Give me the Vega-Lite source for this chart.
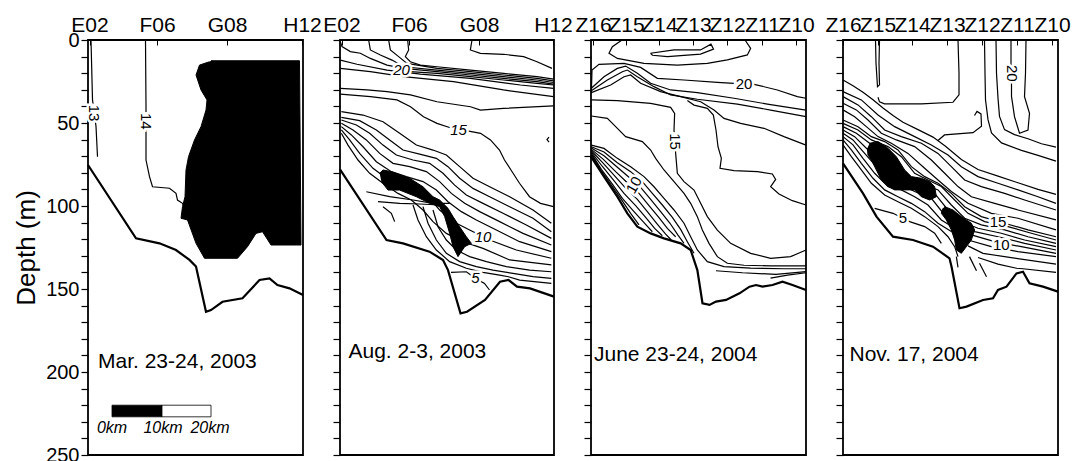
{
"$schema": "https://vega.github.io/schema/vega-lite/v6.json",
"background": "white",
"padding": {"left": 12, "top": 13, "right": 5, "bottom": 0},
"bounds": "flush",
"spacing": 37,
"config": {"view": {"stroke": "black", "strokeWidth": 1.8}, "font": "Liberation Sans"},
"datasets": {
"p1c": [
{"k":"13","x":0.6,"y":0},{"k":"13","x":0.9,"y":36},{"k":"13","x":1.25,"y":44},{"k":"13","x":1.6,"y":52},{"k":"13","x":1.9,"y":70.3},
{"k":"14","x":11.5,"y":0},{"k":"14","x":11.6,"y":40},{"k":"14","x":11.6,"y":58},{"k":"14","x":11.6,"y":72.3},{"k":"14","x":12.3,"y":82.3},{"k":"14","x":12.9,"y":88.4},{"k":"14","x":16.3,"y":89.3},{"k":"14","x":17.6,"y":92.4},{"k":"14","x":17.9,"y":96.4},{"k":"14","x":18.9,"y":98.4},{"k":"14","x":19.3,"y":100.4}
],
"p1f": [
{"k":"f","x":24.6,"y":12.5},{"k":"f","x":42.3,"y":12.5},{"k":"f","x":42.6,"y":123.5},{"k":"f","x":36.6,"y":123.5},{"k":"f","x":34.9,"y":115.5},{"k":"f","x":33.6,"y":116.5},{"k":"f","x":31.9,"y":124.5},{"k":"f","x":29.9,"y":131.5},{"k":"f","x":23.3,"y":131.5},{"k":"f","x":21.6,"y":122.5},{"k":"f","x":19.9,"y":108.4},{"k":"f","x":18.6,"y":107.4},{"k":"f","x":18.9,"y":100.4},{"k":"f","x":19.4,"y":94.4},{"k":"f","x":19.6,"y":78.3},{"k":"f","x":20.1,"y":70.3},{"k":"f","x":21.3,"y":60.2},{"k":"f","x":22.6,"y":52.2},{"k":"f","x":23.6,"y":42.2},{"k":"f","x":23.8,"y":36.1},{"k":"f","x":22.6,"y":30.1},{"k":"f","x":21.6,"y":21.1},{"k":"f","x":22.3,"y":15.1},{"k":"f","x":24.3,"y":13.1}
],
"p1b": [
{"k":"b","x":0,"y":75.3},{"k":"b","x":9.6,"y":119.5},{"k":"b","x":14.3,"y":122.5},{"k":"b","x":17.6,"y":126.5},{"k":"b","x":20.3,"y":132.5},{"k":"b","x":21.6,"y":136.5},{"k":"b","x":23.6,"y":163.7},{"k":"b","x":24.6,"y":162.7},{"k":"b","x":26.9,"y":157.7},{"k":"b","x":30.9,"y":155.6},{"k":"b","x":34.3,"y":144.6},{"k":"b","x":36.3,"y":143.6},{"k":"b","x":37.9,"y":147.6},{"k":"b","x":40.3,"y":149.6},{"k":"b","x":43,"y":153.6}
],
"p1l90": [{"x":1.25,"y":44,"t":"13"},{"x":11.6,"y":49,"t":"14"}],
"p1t": [{"x":2,"y":194,"t":"Mar. 23-24, 2003"}],
"p1bar": [{"seg":"0-10","x":4.8,"x2":14.8,"y":220,"y2":227},{"seg":"10-20","x":14.8,"x2":24.6,"y":220,"y2":227}],
"p1km": [{"x":4.8,"y":234,"t":"0km"},{"x":15,"y":234,"t":"10km"},{"x":24.4,"y":234,"t":"20km"}],
"p2c": [
{"k":"a1","x":0.07,"y":1},{"k":"a1","x":0.4,"y":4},{"k":"a1","x":2.07,"y":7},{"k":"a1","x":4.07,"y":8},{"k":"a1","x":6.07,"y":11.1},{"k":"a1","x":9.4,"y":15.1},{"k":"a1","x":12.73,"y":17.1},{"k":"a1","x":19.4,"y":19.1},{"k":"a1","x":26.1,"y":21.1},{"k":"a1","x":32.7,"y":23.1},{"k":"a1","x":39.4,"y":25.1},{"k":"a1","x":42.7,"y":26.6},
{"k":"a2","x":5.73,"y":0},{"k":"a2","x":6.07,"y":6},{"k":"a2","x":8.07,"y":9},{"k":"a2","x":10.4,"y":12.1},{"k":"a2","x":12.73,"y":16.1},{"k":"a2","x":19.4,"y":18.1},{"k":"a2","x":26.1,"y":20.1},{"k":"a2","x":32.7,"y":22.1},{"k":"a2","x":39.4,"y":24.1},{"k":"a2","x":42.7,"y":25.6},
{"k":"a3","x":9.73,"y":0},{"k":"a3","x":10.07,"y":6},{"k":"a3","x":11.73,"y":10},{"k":"a3","x":13.4,"y":14.1},{"k":"a3","x":19.4,"y":17.1},{"k":"a3","x":26.1,"y":19.1},{"k":"a3","x":32.7,"y":21.1},{"k":"a3","x":39.4,"y":23.1},{"k":"a3","x":42.7,"y":24.6},
{"k":"a4","x":13.53,"y":0},{"k":"a4","x":13.73,"y":6},{"k":"a4","x":13.07,"y":10},{"k":"a4","x":14.07,"y":13.1},{"k":"a4","x":16.07,"y":15.1},{"k":"a4","x":19.4,"y":16.1},{"k":"a4","x":26.1,"y":18.1},{"k":"a4","x":32.7,"y":20.1},{"k":"a4","x":39.4,"y":22.1},{"k":"a4","x":42.7,"y":23.6},
{"k":"a5","x":11,"y":18.5},{"k":"a5","x":19.4,"y":20.1},{"k":"a5","x":26.1,"y":22.1},{"k":"a5","x":32.7,"y":24.1},{"k":"a5","x":39.4,"y":26.1},{"k":"a5","x":42.7,"y":27.1},
{"k":"l5","x":0.07,"y":12.1},{"k":"l5","x":3.4,"y":14.6},{"k":"l5","x":9.4,"y":18.1},{"k":"l5","x":16.1,"y":20.6},{"k":"l5","x":26.1,"y":23.1},{"k":"l5","x":36.1,"y":27.1},{"k":"l5","x":42.7,"y":29.1},
{"k":"l6","x":0.07,"y":17.1},{"k":"l6","x":6.07,"y":19.1},{"k":"l6","x":12.7,"y":22.1},{"k":"l6","x":22.7,"y":25.1},{"k":"l6","x":32.7,"y":30.1},{"k":"l6","x":42.7,"y":34.1},
{"k":"e","x":26.4,"y":0},{"k":"e","x":26.07,"y":6},{"k":"e","x":28.07,"y":8},{"k":"e","x":32.73,"y":8.6},{"k":"e","x":36.73,"y":10},{"k":"e","x":39.4,"y":13.1},{"k":"e","x":42.4,"y":17.1},
{"k":"l7","x":0.07,"y":29.1},{"k":"l7","x":5.4,"y":30.1},{"k":"l7","x":9.4,"y":31.1},{"k":"l7","x":14.1,"y":33.1},{"k":"l7","x":19.4,"y":37.2},{"k":"l7","x":26.1,"y":40.2},{"k":"l7","x":28.1,"y":42.2},{"k":"l7","x":32.7,"y":41.2},{"k":"l7","x":42.7,"y":39.7},
{"k":"c15","x":0.07,"y":32.6},{"k":"c15","x":6.1,"y":34.1},{"k":"c15","x":11.4,"y":36.1},{"k":"c15","x":14.1,"y":40.2},{"k":"c15","x":16.7,"y":46.2},{"k":"c15","x":19.4,"y":50.2},{"k":"c15","x":21.9,"y":52.7},{"k":"c15","x":23.7,"y":54},{"k":"c15","x":25.5,"y":54.7},{"k":"c15","x":28.1,"y":56.2},{"k":"c15","x":30.1,"y":60.2},{"k":"c15","x":31.9,"y":66.3},{"k":"c15","x":32.9,"y":72.3},{"k":"c15","x":34.2,"y":78.3},{"k":"c15","x":35.9,"y":86.3},{"k":"c15","x":37.9,"y":94.4},{"k":"c15","x":40.1,"y":98.4},{"k":"c15","x":42.7,"y":100.4},
{"k":"m1","x":0.27,"y":43.2},{"k":"m1","x":4.6,"y":45.2},{"k":"m1","x":8.6,"y":49.2},{"k":"m1","x":11.93,"y":56.2},{"k":"m1","x":15.27,"y":63.3},{"k":"m1","x":18.6,"y":66.3},{"k":"m1","x":21.27,"y":69.3},{"k":"m1","x":23.93,"y":76.3},{"k":"m1","x":26.6,"y":83.3},{"k":"m1","x":29.93,"y":88.4},{"k":"m1","x":33.93,"y":94.4},{"k":"m1","x":38.6,"y":102.4},{"k":"m1","x":42.27,"y":110.4},
{"k":"m2","x":0.27,"y":46.6},{"k":"m2","x":3.93,"y":48.6},{"k":"m2","x":7.27,"y":54.2},{"k":"m2","x":9.93,"y":60.2},{"k":"m2","x":12.6,"y":66.3},{"k":"m2","x":15.93,"y":68.7},{"k":"m2","x":19.27,"y":71.3},{"k":"m2","x":21.6,"y":76.3},{"k":"m2","x":23.93,"y":83.3},{"k":"m2","x":26.6,"y":89.4},{"k":"m2","x":29.93,"y":94.4},{"k":"m2","x":33.93,"y":100.4},{"k":"m2","x":38.6,"y":107.4},{"k":"m2","x":42.27,"y":115.5},
{"k":"m3","x":0.27,"y":48.2},{"k":"m3","x":3.27,"y":51.2},{"k":"m3","x":5.93,"y":56.2},{"k":"m3","x":8.6,"y":63.3},{"k":"m3","x":11.27,"y":69.3},{"k":"m3","x":14.6,"y":72.3},{"k":"m3","x":17.93,"y":74.3},{"k":"m3","x":20.6,"y":80.3},{"k":"m3","x":22.93,"y":87.4},{"k":"m3","x":25.27,"y":93.4},{"k":"m3","x":28.6,"y":98.4},{"k":"m3","x":32.6,"y":104.4},{"k":"m3","x":37.27,"y":111.4},{"k":"m3","x":42.27,"y":119.5},
{"k":"m4","x":0.27,"y":50.2},{"k":"m4","x":2.6,"y":54.2},{"k":"m4","x":5.27,"y":60.2},{"k":"m4","x":7.93,"y":68.3},{"k":"m4","x":10.6,"y":74.3},{"k":"m4","x":13.93,"y":76.3},{"k":"m4","x":17.27,"y":79.3},{"k":"m4","x":19.93,"y":85.3},{"k":"m4","x":22.27,"y":92.4},{"k":"m4","x":24.93,"y":98.4},{"k":"m4","x":27.93,"y":103.4},{"k":"m4","x":31.93,"y":109.4},{"k":"m4","x":36.6,"y":116.5},{"k":"m4","x":42.27,"y":123.5},
{"k":"m5","x":0.27,"y":52.2},{"k":"m5","x":2.27,"y":57.2},{"k":"m5","x":4.6,"y":64.3},{"k":"m5","x":7.27,"y":73.3},{"k":"m5","x":10.27,"y":79.3},{"k":"m5","x":13.27,"y":82.3},{"k":"m5","x":16.6,"y":85.3},{"k":"m5","x":19.27,"y":90.4},{"k":"m5","x":21.6,"y":97.4},{"k":"m5","x":24.27,"y":103.4},{"k":"m5","x":27.27,"y":108.4},{"k":"m5","x":31.27,"y":114.5},{"k":"m5","x":35.93,"y":121.5},{"k":"m5","x":42.27,"y":127.5},
{"k":"m6","x":0.27,"y":54.2},{"k":"m6","x":1.93,"y":60.2},{"k":"m6","x":3.93,"y":68.3},{"k":"m6","x":6.6,"y":77.3},{"k":"m6","x":9.27,"y":83.3},{"k":"m6","x":12.6,"y":87.4},{"k":"m6","x":15.27,"y":90.4},{"k":"m6","x":17.93,"y":95.4},{"k":"m6","x":19.93,"y":102.4},{"k":"m6","x":22.6,"y":109.4},{"k":"m6","x":25.93,"y":114.5},{"k":"m6","x":29.93,"y":120.5},{"k":"m6","x":35.27,"y":126.5},{"k":"m6","x":42.27,"y":131.5},
{"k":"m7","x":0.27,"y":56.2},{"k":"m7","x":1.6,"y":63.3},{"k":"m7","x":3.6,"y":72.3},{"k":"m7","x":5.93,"y":80.3},{"k":"m7","x":8.6,"y":86.3},{"k":"m7","x":11.6,"y":92.4},{"k":"m7","x":14.27,"y":96.4},{"k":"m7","x":16.6,"y":102.4},{"k":"m7","x":18.6,"y":109.4},{"k":"m7","x":21.27,"y":116.5},{"k":"m7","x":24.6,"y":121.5},{"k":"m7","x":28.6,"y":125.5},{"k":"m7","x":33.93,"y":132.5},{"k":"m7","x":42.27,"y":135.5},
{"k":"n1","x":14.6,"y":99.4},{"k":"n1","x":15.6,"y":108.4},{"k":"n1","x":17.27,"y":118.5},{"k":"n1","x":19.27,"y":126.5},{"k":"n1","x":21.93,"y":133.5},{"k":"n1","x":25.27,"y":137.5},{"k":"n1","x":28.6,"y":140},{"k":"n1","x":31.93,"y":141.6},{"k":"n1","x":33.7,"y":142.6},{"k":"n1","x":35.93,"y":144.6},{"k":"n1","x":42.27,"y":146.6},
{"k":"n2","x":16.6,"y":100.4},{"k":"n2","x":17.6,"y":110.4},{"k":"n2","x":19.27,"y":120.5},{"k":"n2","x":21.27,"y":128.5},{"k":"n2","x":23.93,"y":133.5},{"k":"n2","x":27.27,"y":136.5},{"k":"n2","x":30.6,"y":138.6},{"k":"n2","x":34.6,"y":140.6},{"k":"n2","x":38.6,"y":142.6},{"k":"n2","x":42.27,"y":143.6},
{"k":"n3","x":18.6,"y":102.4},{"k":"n3","x":19.6,"y":112.5},{"k":"n3","x":21.27,"y":120.5},{"k":"n3","x":23.27,"y":126.5},{"k":"n3","x":25.93,"y":130.5},{"k":"n3","x":29.27,"y":133.5},{"k":"n3","x":33.27,"y":136.5},{"k":"n3","x":37.93,"y":138.6},{"k":"n3","x":42.27,"y":139.6},
{"k":"x1","x":5.27,"y":91.4},{"k":"x1","x":9.93,"y":94.4},{"k":"x1","x":14.6,"y":96.4},{"k":"x1","x":18.6,"y":98.4},{"k":"x1","x":21.93,"y":98.4},
{"k":"x2","x":7.6,"y":97.4},{"k":"x2","x":11.93,"y":98.4},{"k":"x2","x":15.93,"y":98.8},{"k":"x2","x":19.93,"y":99.4},
{"k":"x3","x":8.6,"y":100.4},{"k":"x3","x":10.27,"y":104.4},{"k":"x3","x":10.93,"y":109.4},
{"k":"c5","x":22.2,"y":140},{"k":"c5","x":25.27,"y":139.6},{"k":"c5","x":27.1,"y":143.6},{"k":"c5","x":28.9,"y":146.6},{"k":"c5","x":29.9,"y":150.6},
{"k":"cc","x":41.8,"y":58.5},{"k":"cc","x":41.4,"y":60},{"k":"cc","x":41.8,"y":61.5}
],
"p2f": [
{"k":"f","x":7.93,"y":80.3},{"k":"f","x":8.6,"y":78.3},{"k":"f","x":10.27,"y":79.3},{"k":"f","x":13.93,"y":83.3},{"k":"f","x":16.6,"y":88.4},{"k":"f","x":18.6,"y":94.4},{"k":"f","x":19.93,"y":96.4},{"k":"f","x":21.6,"y":101.4},{"k":"f","x":22.6,"y":106.4},{"k":"f","x":23.93,"y":112.5},{"k":"f","x":25.27,"y":118.5},{"k":"f","x":26.27,"y":122.5},{"k":"f","x":24.93,"y":124.5},{"k":"f","x":23.6,"y":130.5},{"k":"f","x":22.6,"y":124.5},{"k":"f","x":21.93,"y":116.5},{"k":"f","x":20.93,"y":106.4},{"k":"f","x":19.93,"y":100.4},{"k":"f","x":17.93,"y":98.4},{"k":"f","x":15.27,"y":94.4},{"k":"f","x":11.93,"y":90.4},{"k":"f","x":9.6,"y":90.4},{"k":"f","x":8.27,"y":85.3}
],
"p2b": [
{"k":"b","x":0,"y":78},{"k":"b","x":9.3,"y":120.5},{"k":"b","x":12.6,"y":122.5},{"k":"b","x":17.9,"y":127.5},{"k":"b","x":20.6,"y":132.5},{"k":"b","x":21.6,"y":138.6},{"k":"b","x":24.1,"y":164.7},{"k":"b","x":25.4,"y":163.7},{"k":"b","x":29,"y":156.6},{"k":"b","x":32,"y":145.6},{"k":"b","x":33.7,"y":144.6},{"k":"b","x":35.4,"y":148.6},{"k":"b","x":38,"y":149.6},{"k":"b","x":42.8,"y":154.6}
],
"p2l0": [{"x":12.3,"y":18.1,"t":"20"},{"x":23.7,"y":54,"t":"15"},{"x":28.6,"y":118.5,"t":"10"},{"x":27.1,"y":143.6,"t":"5"}],
"p2t": [{"x":1.7,"y":188,"t":"Aug. 2-3, 2003"}],
"p3c": [
{"k":"ta","x":6.2,"y":0},{"k":"ta","x":4.27,"y":4},{"k":"ta","x":3.6,"y":8},{"k":"ta","x":5.27,"y":11.1},{"k":"ta","x":10.6,"y":14.1},{"k":"ta","x":17.27,"y":15.1},{"k":"ta","x":23.27,"y":14.1},{"k":"ta","x":27.27,"y":12},{"k":"ta","x":31.27,"y":9},{"k":"ta","x":31.93,"y":5},{"k":"ta","x":30.8,"y":0},
{"k":"tb","x":11.9,"y":8},{"k":"tb","x":16.6,"y":6},{"k":"tb","x":21.9,"y":6},{"k":"tb","x":24,"y":2.5},{"k":"tb","x":24.5,"y":5.5},{"k":"tb","x":21.9,"y":8.5},{"k":"tb","x":15.3,"y":10},{"k":"tb","x":12.3,"y":9.2},{"k":"tb","x":11.9,"y":8},
{"k":"tc","x":0.07,"y":32.1},{"k":"tc","x":0.2,"y":18.1},{"k":"tc","x":1.6,"y":14.7},{"k":"tc","x":6.6,"y":14.1},{"k":"tc","x":9.93,"y":16.5},{"k":"tc","x":13.27,"y":23.1},{"k":"tc","x":18.6,"y":24.1},{"k":"tc","x":25.27,"y":25.5},{"k":"tc","x":28.6,"y":26.1},{"k":"tc","x":30.6,"y":26.4},{"k":"tc","x":32.6,"y":26.7},{"k":"tc","x":37.27,"y":30.1},{"k":"tc","x":41.27,"y":34.1},{"k":"tc","x":43,"y":35.1},
{"k":"td","x":0.07,"y":29.1},{"k":"td","x":2.6,"y":22.1},{"k":"td","x":5.27,"y":17.1},{"k":"td","x":6.93,"y":15.7},{"k":"td","x":9.27,"y":20.1},{"k":"td","x":11.93,"y":26.1},{"k":"td","x":15.93,"y":30.1},{"k":"td","x":21.27,"y":31.7},{"k":"td","x":28.6,"y":35.1},{"k":"td","x":35.27,"y":38.6},{"k":"td","x":43,"y":42.2},
{"k":"te","x":0.07,"y":30.5},{"k":"te","x":3.27,"y":24.1},{"k":"te","x":6.27,"y":19.1},{"k":"te","x":7.27,"y":18.1},{"k":"te","x":9.27,"y":22.1},{"k":"te","x":12.6,"y":28.1},{"k":"te","x":15.93,"y":33.1},{"k":"te","x":21.27,"y":35.7},{"k":"te","x":29.27,"y":38.6},{"k":"te","x":35.93,"y":42.2},{"k":"te","x":43,"y":46.2},
{"k":"tf","x":0.07,"y":31.7},{"k":"tf","x":3.93,"y":27.1},{"k":"tf","x":6.6,"y":22.1},{"k":"tf","x":7.93,"y":21.1},{"k":"tf","x":9.93,"y":26.1},{"k":"tf","x":13.93,"y":31.1},{"k":"tf","x":17.93,"y":34.1},{"k":"tf","x":21.93,"y":37.2},{"k":"tf","x":24.6,"y":42.2},{"k":"tf","x":26.6,"y":47.2},{"k":"tf","x":29.93,"y":50.2},{"k":"tf","x":34.6,"y":53.2},{"k":"tf","x":38.6,"y":58.2},{"k":"tf","x":43,"y":63.3},
{"k":"c15","x":0.07,"y":36.1},{"k":"c15","x":5.27,"y":36.5},{"k":"c15","x":11.93,"y":38.2},{"k":"c15","x":15.93,"y":40.6},{"k":"c15","x":16.73,"y":44.2},{"k":"c15","x":16.6,"y":54.2},{"k":"c15","x":16.73,"y":61.2},{"k":"c15","x":16.93,"y":68.3},{"k":"c15","x":17.27,"y":80.3},{"k":"c15","x":18.6,"y":85.3},{"k":"c15","x":20.6,"y":90.4},{"k":"c15","x":21.93,"y":98.4},{"k":"c15","x":23.27,"y":106.4},{"k":"c15","x":25.27,"y":114.5},{"k":"c15","x":27.93,"y":122.5},{"k":"c15","x":31.93,"y":128.5},{"k":"c15","x":35.93,"y":131.5},{"k":"c15","x":39.93,"y":130.5},{"k":"c15","x":43,"y":126.5},
{"k":"sg","x":19.27,"y":36.5},{"k":"sg","x":20.6,"y":39.2},{"k":"sg","x":23.27,"y":41.2},{"k":"sg","x":24.47,"y":45.2},{"k":"sg","x":25,"y":54.2},{"k":"sg","x":25.4,"y":64.3},{"k":"sg","x":26.07,"y":71.3},{"k":"sg","x":25.8,"y":77.3},{"k":"sg","x":28.6,"y":78.7},{"k":"sg","x":33.27,"y":79.3},{"k":"sg","x":36.27,"y":80.7},{"k":"sg","x":36.93,"y":84},{"k":"sg","x":35.93,"y":88.4},{"k":"sg","x":37.6,"y":92.8},{"k":"sg","x":40.27,"y":96.8},{"k":"sg","x":43,"y":99.4},
{"k":"g1","x":0.07,"y":45.8},{"k":"g1","x":3.27,"y":47.2},{"k":"g1","x":4.93,"y":52.2},{"k":"g1","x":6.93,"y":58.2},{"k":"g1","x":10.27,"y":61.2},{"k":"g1","x":11.93,"y":66.3},{"k":"g1","x":12.93,"y":71.3},{"k":"g1","x":14.6,"y":78.3},{"k":"g1","x":16.6,"y":85.3},{"k":"g1","x":18.6,"y":92.4},{"k":"g1","x":19.93,"y":98.4},{"k":"g1","x":21.27,"y":106.4},{"k":"g1","x":22.27,"y":114.5},{"k":"g1","x":23.6,"y":122.5},{"k":"g1","x":25.27,"y":130.5},{"k":"g1","x":27.27,"y":134.5},{"k":"g1","x":30.6,"y":135.7},{"k":"g1","x":35.93,"y":136.1},{"k":"g1","x":43,"y":136.1},
{"k":"h1","x":0.07,"y":63.3},{"k":"h1","x":2.6,"y":65.3},{"k":"h1","x":5.27,"y":71.3},{"k":"h1","x":7.93,"y":76.3},{"k":"h1","x":10.6,"y":82.3},{"k":"h1","x":12.6,"y":88.4},{"k":"h1","x":14.6,"y":95.4},{"k":"h1","x":16.6,"y":102.4},{"k":"h1","x":18.6,"y":110.4},{"k":"h1","x":19.93,"y":118.5},{"k":"h1","x":21.27,"y":126.5},{"k":"h1","x":23.27,"y":133.5},{"k":"h1","x":26.6,"y":136.5},{"k":"h1","x":31.93,"y":137.4},{"k":"h1","x":38.6,"y":137.8},{"k":"h1","x":43,"y":137.8},
{"k":"h2","x":0.07,"y":64.3},{"k":"h2","x":2.6,"y":67.5},{"k":"h2","x":5.27,"y":73.9},{"k":"h2","x":7.93,"y":79.3},{"k":"h2","x":10.27,"y":85.3},{"k":"h2","x":12.27,"y":92.4},{"k":"h2","x":14.27,"y":99.4},{"k":"h2","x":16.27,"y":106.8},{"k":"h2","x":17.93,"y":114.1},{"k":"h2","x":19.27,"y":121.5},{"k":"h2","x":20.6,"y":128.5},
{"k":"h3","x":0.07,"y":65.1},{"k":"h3","x":2.6,"y":69.7},{"k":"h3","x":5.27,"y":76.7},{"k":"h3","x":7.6,"y":82.7},{"k":"h3","x":9.93,"y":88.8},{"k":"h3","x":11.93,"y":96},{"k":"h3","x":13.93,"y":103.4},{"k":"h3","x":15.8,"y":110.4},{"k":"h3","x":17.4,"y":117.5},{"k":"h3","x":18.6,"y":122.5},
{"k":"h4","x":0.07,"y":65.9},{"k":"h4","x":2.47,"y":71.9},{"k":"h4","x":4.93,"y":79.3},{"k":"h4","x":7.27,"y":86},{"k":"h4","x":9.6,"y":92.4},{"k":"h4","x":11.6,"y":99.8},{"k":"h4","x":13.6,"y":107},{"k":"h4","x":15.27,"y":113.5},{"k":"h4","x":16.93,"y":118.5},
{"k":"h5","x":0.07,"y":66.7},{"k":"h5","x":2.33,"y":73.9},{"k":"h5","x":4.73,"y":81.9},{"k":"h5","x":6.93,"y":89.2},{"k":"h5","x":9.27,"y":96},{"k":"h5","x":11.27,"y":103.4},{"k":"h5","x":13.13,"y":110.4},{"k":"h5","x":14.93,"y":116.9},{"k":"h5","x":16.07,"y":120.5},
{"k":"h6","x":0.07,"y":67.5},{"k":"h6","x":2.2,"y":75.9},{"k":"h6","x":4.47,"y":84.3},{"k":"h6","x":6.6,"y":92.4},{"k":"h6","x":8.93,"y":99.8},{"k":"h6","x":10.93,"y":106.8},{"k":"h6","x":12.73,"y":113.5},{"k":"h6","x":14.27,"y":117.9},
{"k":"h7","x":0.07,"y":68.3},{"k":"h7","x":2.07,"y":77.9},{"k":"h7","x":4.27,"y":86.8},{"k":"h7","x":6.27,"y":95.4},{"k":"h7","x":8.6,"y":103.4},{"k":"h7","x":10.6,"y":110},{"k":"h7","x":12.27,"y":115.5},
{"k":"h8","x":0.07,"y":69.1},{"k":"h8","x":1.93,"y":78.3},{"k":"h8","x":3.93,"y":86.8},{"k":"h8","x":5.93,"y":95.4},{"k":"h8","x":7.93,"y":104.4},{"k":"h8","x":9.6,"y":111.4},
{"k":"bb","x":25,"y":139},{"k":"bb","x":30.3,"y":140.2},{"k":"bb","x":37,"y":141.2},{"k":"bb","x":43,"y":139.5},
{"k":"hh","x":35.9,"y":143.5},{"k":"hh","x":39.3,"y":141.6},{"k":"hh","x":43,"y":140.2}
],
"p3b": [
{"k":"b","x":0,"y":70.3},{"k":"b","x":2.6,"y":82.3},{"k":"b","x":5.27,"y":94.4},{"k":"b","x":7.27,"y":104.4},{"k":"b","x":9.27,"y":112.5},{"k":"b","x":11.93,"y":116.5},{"k":"b","x":14.6,"y":119.5},{"k":"b","x":17.93,"y":122.5},{"k":"b","x":19.93,"y":126.5},{"k":"b","x":21.27,"y":138.6},{"k":"b","x":22.3,"y":158.6},{"k":"b","x":23.7,"y":159.6},{"k":"b","x":25,"y":157.6},{"k":"b","x":27,"y":156.6},{"k":"b","x":29.7,"y":152.6},{"k":"b","x":31.7,"y":148.6},{"k":"b","x":33,"y":147.6},{"k":"b","x":34.3,"y":148.6},{"k":"b","x":36.3,"y":147.6},{"k":"b","x":38.3,"y":145.6},{"k":"b","x":40.3,"y":147.6},{"k":"b","x":43,"y":150.6}
],
"p3l0": [{"x":30.6,"y":26.5,"t":"20"}],
"p3l90": [{"x":16.7,"y":61.2,"t":"15"}],
"p3lr": [{"x":8.6,"y":87.4,"t":"10"}],
"p3t": [{"x":0.6,"y":190,"t":"June 23-24, 2004"}],
"p4c": [
{"k":"lp","x":6.5,"y":0},{"k":"lp","x":6.6,"y":14},{"k":"lp","x":6.9,"y":28.1},{"k":"lp","x":7.3,"y":27},{"k":"lp","x":7.2,"y":14},{"k":"lp","x":7.3,"y":0},
{"k":"gm","x":23,"y":0},{"k":"gm","x":23.2,"y":20},{"k":"gm","x":23.2,"y":33},{"k":"gm","x":22,"y":37.5},{"k":"gm","x":15.7,"y":38.5},{"k":"gm","x":8.3,"y":38.5},{"k":"gm","x":7.3,"y":37.3},{"k":"gm","x":7,"y":34.5},
{"k":"ra","x":28.3,"y":0},{"k":"ra","x":28.4,"y":20},{"k":"ra","x":28.5,"y":36},{"k":"ra","x":29,"y":48},{"k":"ra","x":29.7,"y":56},{"k":"ra","x":31.7,"y":62},{"k":"ra","x":35.7,"y":66.5},{"k":"ra","x":39,"y":69.5},{"k":"ra","x":42.6,"y":73},
{"k":"rb","x":30.6,"y":0},{"k":"rb","x":30.7,"y":20},{"k":"rb","x":31,"y":35},{"k":"rb","x":31.3,"y":46},{"k":"rb","x":32.3,"y":54},{"k":"rb","x":34.3,"y":57},{"k":"rb","x":37,"y":59.5},{"k":"rb","x":39.7,"y":62.5},{"k":"rb","x":42.6,"y":64.5},
{"k":"rc","x":33.6,"y":0},{"k":"rc","x":33.6,"y":14},{"k":"rc","x":33.7,"y":20},{"k":"rc","x":33.7,"y":26},{"k":"rc","x":33.7,"y":34},{"k":"rc","x":34.3,"y":46.2},{"k":"rc","x":35.3,"y":56.2},{"k":"rc","x":37,"y":54.2},{"k":"rc","x":37.3,"y":44.2},{"k":"rc","x":36.3,"y":34.1},{"k":"rc","x":36.5,"y":20},{"k":"rc","x":36.6,"y":0},
{"k":"rd","x":26.3,"y":45.5},{"k":"rd","x":26.8,"y":43},{"k":"rd","x":27.6,"y":44.5},{"k":"rd","x":27.7,"y":52},{"k":"rd","x":26,"y":55.8},{"k":"rd","x":20.3,"y":57.2},{"k":"rd","x":19,"y":60.5},
{"k":"e0","x":0,"y":24.1},{"k":"e0","x":2,"y":27.5},{"k":"e0","x":4,"y":31.5},{"k":"e0","x":6,"y":36},{"k":"e0","x":8,"y":41},{"k":"e0","x":10,"y":45.5},{"k":"e0","x":12,"y":49.5},{"k":"e0","x":15,"y":54},{"k":"e0","x":18,"y":58.5},{"k":"e0","x":20.5,"y":64},{"k":"e0","x":23.67,"y":72},{"k":"e0","x":27,"y":78},{"k":"e0","x":31,"y":82},{"k":"e0","x":35,"y":86},{"k":"e0","x":39,"y":90},{"k":"e0","x":42.6,"y":93},
{"k":"e1","x":0,"y":31.1},{"k":"e1","x":3.67,"y":36.1},{"k":"e1","x":7,"y":45.2},{"k":"e1","x":10.33,"y":52.2},{"k":"e1","x":14.33,"y":58.2},{"k":"e1","x":17.67,"y":63.2},{"k":"e1","x":21,"y":69.3},{"k":"e1","x":23.67,"y":76.3},{"k":"e1","x":27,"y":82.3},{"k":"e1","x":31,"y":86.3},{"k":"e1","x":35,"y":90.3},{"k":"e1","x":39,"y":94.4},{"k":"e1","x":42.6,"y":98.4},
{"k":"e2","x":0,"y":34.1},{"k":"e2","x":3,"y":39.1},{"k":"e2","x":5.67,"y":46.2},{"k":"e2","x":8.33,"y":54.2},{"k":"e2","x":11.67,"y":58.2},{"k":"e2","x":15.67,"y":62.2},{"k":"e2","x":19,"y":68.3},{"k":"e2","x":21.67,"y":76.3},{"k":"e2","x":24.33,"y":84.3},{"k":"e2","x":27.67,"y":88.3},{"k":"e2","x":32.33,"y":92.4},{"k":"e2","x":36.33,"y":96.4},{"k":"e2","x":42.6,"y":102.4},
{"k":"e3","x":0,"y":38.1},{"k":"e3","x":2.67,"y":42.1},{"k":"e3","x":5,"y":48.2},{"k":"e3","x":7.67,"y":56.2},{"k":"e3","x":10.67,"y":60.2},{"k":"e3","x":14.33,"y":64.2},{"k":"e3","x":17.67,"y":72.3},{"k":"e3","x":20.33,"y":80.3},{"k":"e3","x":23,"y":88.3},{"k":"e3","x":25.67,"y":94.4},{"k":"e3","x":30.33,"y":98.4},{"k":"e3","x":35,"y":102.4},{"k":"e3","x":42.6,"y":108.4},
{"k":"e4","x":0,"y":42.1},{"k":"e4","x":2.33,"y":46.2},{"k":"e4","x":4.67,"y":52.2},{"k":"e4","x":7,"y":58.2},{"k":"e4","x":9.67,"y":62.2},{"k":"e4","x":13,"y":68.3},{"k":"e4","x":16.33,"y":77.3},{"k":"e4","x":19,"y":84.3},{"k":"e4","x":21.67,"y":91.3},{"k":"e4","x":25,"y":98.4},{"k":"e4","x":29.67,"y":104.4},{"k":"e4","x":35,"y":107.4},{"k":"e4","x":42.6,"y":114.4},
{"k":"e5","x":0,"y":48.2},{"k":"e5","x":3,"y":52.2},{"k":"e5","x":5.67,"y":58.2},{"k":"e5","x":8.33,"y":61.2},{"k":"e5","x":11,"y":66.2},{"k":"e5","x":13.67,"y":76.3},{"k":"e5","x":16.33,"y":82.3},{"k":"e5","x":19,"y":86.3},{"k":"e5","x":21.67,"y":92.4},{"k":"e5","x":24.33,"y":100.4},{"k":"e5","x":27.67,"y":106.4},{"k":"e5","x":32.33,"y":110.4},{"k":"e5","x":37,"y":114.4},{"k":"e5","x":42.6,"y":118.5},
{"k":"e6","x":0,"y":50.2},{"k":"e6","x":3,"y":54.2},{"k":"e6","x":5.67,"y":60.2},{"k":"e6","x":9,"y":64.2},{"k":"e6","x":11.67,"y":70.3},{"k":"e6","x":14.33,"y":80.3},{"k":"e6","x":17,"y":84.3},{"k":"e6","x":19.67,"y":88.3},{"k":"e6","x":22.33,"y":96.4},{"k":"e6","x":25,"y":104.4},{"k":"e6","x":28.33,"y":109.4},{"k":"e6","x":33,"y":112.4},{"k":"e6","x":37.67,"y":116.4},{"k":"e6","x":42.6,"y":120.5},
{"k":"e7","x":0,"y":52.2},{"k":"e7","x":2.67,"y":56.2},{"k":"e7","x":5.33,"y":62.2},{"k":"e7","x":7.67,"y":67.2},{"k":"e7","x":10.33,"y":73.3},{"k":"e7","x":13,"y":82.3},{"k":"e7","x":15.67,"y":86.3},{"k":"e7","x":19,"y":90.3},{"k":"e7","x":21.67,"y":99.4},{"k":"e7","x":24.33,"y":107.4},{"k":"e7","x":27.67,"y":111.4},{"k":"e7","x":32.33,"y":114.4},{"k":"e7","x":37,"y":118.5},{"k":"e7","x":42.6,"y":122.5},
{"k":"e8","x":0,"y":54.2},{"k":"e8","x":2.33,"y":58.2},{"k":"e8","x":4.67,"y":65.2},{"k":"e8","x":7,"y":71.3},{"k":"e8","x":9.67,"y":79.3},{"k":"e8","x":12.33,"y":84.3},{"k":"e8","x":15,"y":88.3},{"k":"e8","x":18.33,"y":92.4},{"k":"e8","x":21,"y":102.4},{"k":"e8","x":23.67,"y":109.4},{"k":"e8","x":27,"y":113.4},{"k":"e8","x":31.67,"y":116.4},{"k":"e8","x":36.33,"y":120.5},{"k":"e8","x":42.6,"y":124.5},
{"k":"e9","x":0,"y":56.2},{"k":"e9","x":2,"y":60.2},{"k":"e9","x":4.33,"y":68.3},{"k":"e9","x":6.67,"y":76.3},{"k":"e9","x":9,"y":84.3},{"k":"e9","x":11.67,"y":87.3},{"k":"e9","x":14.33,"y":91.3},{"k":"e9","x":17.67,"y":95.4},{"k":"e9","x":20.33,"y":105.4},{"k":"e9","x":23,"y":111.4},{"k":"e9","x":26.33,"y":115.4},{"k":"e9","x":31,"y":118.5},{"k":"e9","x":36.33,"y":122.5},{"k":"e9","x":42.6,"y":126.5},
{"k":"e10","x":0,"y":58.2},{"k":"e10","x":2,"y":63.2},{"k":"e10","x":4,"y":71.3},{"k":"e10","x":6.33,"y":80.3},{"k":"e10","x":9,"y":88.3},{"k":"e10","x":11.67,"y":90.3},{"k":"e10","x":14.33,"y":94.4},{"k":"e10","x":17,"y":99.4},{"k":"e10","x":19.67,"y":108.4},{"k":"e10","x":22.33,"y":113.4},{"k":"e10","x":25.67,"y":117.4},{"k":"e10","x":30.33,"y":121.5},{"k":"e10","x":35.67,"y":124.5},{"k":"e10","x":42.6,"y":128.5},
{"k":"e11","x":0,"y":60.2},{"k":"e11","x":1.67,"y":66.2},{"k":"e11","x":3.67,"y":74.3},{"k":"e11","x":6,"y":83.3},{"k":"e11","x":8.33,"y":90.3},{"k":"e11","x":11,"y":94.4},{"k":"e11","x":13.67,"y":98.4},{"k":"e11","x":16.33,"y":103.4},{"k":"e11","x":19,"y":110.4},{"k":"e11","x":21.67,"y":115.4},{"k":"e11","x":25,"y":120.5},{"k":"e11","x":29.67,"y":124.5},{"k":"e11","x":35,"y":127.5},{"k":"e11","x":42.6,"y":130.5},
{"k":"e12","x":25,"y":124},{"k":"e12","x":28,"y":128.5},{"k":"e12","x":33.3,"y":131},{"k":"e12","x":42.6,"y":135},
{"k":"e13","x":27,"y":131},{"k":"e13","x":31,"y":135},{"k":"e13","x":34.7,"y":137.5},{"k":"e13","x":36,"y":137.8},{"k":"e13","x":42.6,"y":140},
{"k":"f1","x":0,"y":63.2},{"k":"f1","x":1.67,"y":70.3},{"k":"f1","x":3.67,"y":78.3},{"k":"f1","x":5.67,"y":86.3},{"k":"f1","x":8.33,"y":93.4},{"k":"f1","x":11,"y":97.4},{"k":"f1","x":13.67,"y":101.4},{"k":"f1","x":16.33,"y":106.4},{"k":"f1","x":19,"y":112.4},{"k":"f1","x":21,"y":118.5},{"k":"f1","x":22.33,"y":124.5},{"k":"f1","x":23,"y":130.5},
{"k":"c5","x":6.33,"y":101.4},{"k":"c5","x":10,"y":104.4},{"k":"c5","x":12,"y":107.4},{"k":"c5","x":13.33,"y":109.4},{"k":"c5","x":16.33,"y":112.4},{"k":"c5","x":18.33,"y":116.4},{"k":"c5","x":19.67,"y":122.5},
{"k":"s1","x":22.67,"y":130.5},{"k":"s1","x":23,"y":137},
{"k":"s2","x":25.3,"y":130.5},{"k":"s2","x":26.7,"y":139},
{"k":"s3","x":27.3,"y":134.5},{"k":"s3","x":28.7,"y":142.6}
],
"p4f": [
{"k":"f1","x":5.33,"y":62.2},{"k":"f1","x":7,"y":61.2},{"k":"f1","x":9,"y":65.2},{"k":"f1","x":10.67,"y":70.3},{"k":"f1","x":12.33,"y":78.3},{"k":"f1","x":13.67,"y":82.3},{"k":"f1","x":15.67,"y":83.3},{"k":"f1","x":17.33,"y":85.3},{"k":"f1","x":18.33,"y":88.3},{"k":"f1","x":18.67,"y":94.4},{"k":"f1","x":17.33,"y":96.4},{"k":"f1","x":15.67,"y":94.4},{"k":"f1","x":14.33,"y":90.3},{"k":"f1","x":12.33,"y":90.3},{"k":"f1","x":10.33,"y":90.3},{"k":"f1","x":9,"y":88.3},{"k":"f1","x":7.67,"y":84.3},{"k":"f1","x":6.67,"y":78.3},{"k":"f1","x":5.67,"y":72.3},{"k":"f1","x":5,"y":69.3},{"k":"f1","x":4.87,"y":65.2},
{"k":"f2","x":20.33,"y":100.4},{"k":"f2","x":22,"y":102.4},{"k":"f2","x":23.67,"y":106.4},{"k":"f2","x":25.67,"y":110.4},{"k":"f2","x":26.33,"y":114.4},{"k":"f2","x":25.67,"y":120.5},{"k":"f2","x":24.67,"y":124.5},{"k":"f2","x":23.67,"y":128.5},{"k":"f2","x":22.67,"y":126.5},{"k":"f2","x":22.33,"y":120.5},{"k":"f2","x":21.67,"y":114.4},{"k":"f2","x":20.67,"y":108.4},{"k":"f2","x":19.67,"y":104.4},{"k":"f2","x":20,"y":101.4}
],
"p4b": [
{"k":"b","x":0,"y":74.3},{"k":"b","x":4,"y":92.4},{"k":"b","x":6.7,"y":106.4},{"k":"b","x":10,"y":118.5},{"k":"b","x":14,"y":120.5},{"k":"b","x":18,"y":124.5},{"k":"b","x":21.3,"y":131.5},{"k":"b","x":21.7,"y":136.5},{"k":"b","x":23.3,"y":161.6},{"k":"b","x":24.7,"y":160.6},{"k":"b","x":28,"y":156.6},{"k":"b","x":30,"y":155.6},{"k":"b","x":31,"y":150.6},{"k":"b","x":32.7,"y":148.6},{"k":"b","x":34.7,"y":140.6},{"k":"b","x":36,"y":139.6},{"k":"b","x":37.3,"y":146.6},{"k":"b","x":40,"y":148.6},{"k":"b","x":43,"y":151.6}
],
"p4l0": [{"x":12,"y":107.4,"t":"5"},{"x":31,"y":109.4,"t":"15"},{"x":31.67,"y":123.5,"t":"10"}],
"p4l90": [{"x":33.7,"y":20.1,"t":"20"}],
"p4t": [{"x":1.3,"y":190,"t":"Nov. 17, 2004"}]
},
"hconcat": [
{
"width": 215, "height": 415,
"encoding": {
"x": {"field": "x", "type": "quantitative", "scale": {"domain": [0, 43], "nice": false, "zero": false},
 "axis": {"orient": "top", "values": [0.3, 13.8, 27.8, 42.8], "labelExpr": "['E02','F06','G08','H12'][round(datum.value/14)]", "title": null, "grid": false, "domain": false, "tickSize": -5, "tickColor": "black", "labelFontSize": 21, "labelColor": "black", "labelFont": "Liberation Sans", "labelPadding": 10, "labelFlush": false, "labelOverlap": false, "labelBound": false}},
"y": {"field": "y", "type": "quantitative", "scale": {"domain": [0, 250], "reverse": true, "nice": false, "zero": false},
 "axis": {"values": [0,10,20,30,40,50,60,70,80,90,100,110,120,130,140,150,160,170,180,190,200,210,220,230,240,250], "labelExpr": "datum.value % 50 === 0 ? datum.label : ''", "title": "Depth (m)", "titleFontSize": 26, "titleFontWeight": "normal", "titleFont": "Liberation Sans", "titleColor": "black", "titlePadding": 6, "labelFontSize": 20, "labelColor": "black", "labelFont": "Liberation Sans", "labelPadding": 2, "tickSize": 7, "tickColor": "black", "tickWidth": 1.2, "domain": false, "grid": false, "labelOverlap": false}}
},
"layer": [
{"data": {"name": "p1c"}, "mark": {"type": "line", "color": "black", "strokeWidth": 1.2}, "encoding": {"detail": {"field": "k"}, "order": {"value": null}}},
{"data": {"name": "p1f"}, "mark": {"type": "line", "color": "black", "fill": "black", "strokeWidth": 1}, "encoding": {"detail": {"field": "k"}, "order": {"value": null}}},
{"data": {"name": "p1b"}, "mark": {"type": "line", "color": "black", "strokeWidth": 2.2}, "encoding": {"order": {"value": null}}},
{"data": {"name": "p1l90"}, "mark": {"type": "text", "angle": 90, "fontSize": 15, "fill": "white", "stroke": "white", "strokeWidth": 5}, "encoding": {"text": {"field": "t"}}},
{"data": {"name": "p1l90"}, "mark": {"type": "text", "angle": 90, "fontSize": 15, "color": "black"}, "encoding": {"text": {"field": "t"}}},
{"data": {"name": "p1t"}, "mark": {"type": "text", "align": "left", "baseline": "middle", "fontSize": 21, "color": "black"}, "encoding": {"text": {"field": "t"}}},
{"data": {"name": "p1bar"}, "mark": {"type": "rect", "stroke": "black", "strokeWidth": 0.8}, "encoding": {"x2": {"field": "x2"}, "y2": {"field": "y2"}, "fill": {"field": "seg", "type": "nominal", "scale": {"domain": ["0-10", "10-20"], "range": ["black", "white"]}, "legend": null}}},
{"data": {"name": "p1km"}, "mark": {"type": "text", "fontSize": 16, "fontStyle": "italic", "baseline": "middle", "color": "black"}, "encoding": {"text": {"field": "t"}}}
]
},
{
"width": 214, "height": 415,
"encoding": {
"x": {"field": "x", "type": "quantitative", "scale": {"domain": [0, 42.8], "nice": false, "zero": false},
 "axis": {"orient": "top", "values": [0.3, 13.8, 27.8, 42.6], "labelExpr": "['E02','F06','G08','H12'][round(datum.value/14)]", "title": null, "grid": false, "domain": false, "tickSize": -5, "tickColor": "black", "labelFontSize": 21, "labelColor": "black", "labelFont": "Liberation Sans", "labelPadding": 10, "labelFlush": false, "labelOverlap": false, "labelBound": false}},
"y": {"field": "y", "type": "quantitative", "scale": {"domain": [0, 250], "reverse": true, "nice": false, "zero": false},
 "axis": {"values": [0,10,20,30,40,50,60,70,80,90,100,110,120,130,140,150,160,170,180,190,200,210,220,230,240,250], "labels": false, "title": null, "tickSize": 7, "tickColor": "black", "tickWidth": 1.2, "domain": false, "grid": false}}
},
"layer": [
{"data": {"name": "p2c"}, "mark": {"type": "line", "color": "black", "strokeWidth": 1.2}, "encoding": {"detail": {"field": "k"}, "order": {"value": null}}},
{"data": {"name": "p2f"}, "mark": {"type": "line", "color": "black", "fill": "black", "strokeWidth": 1}, "encoding": {"detail": {"field": "k"}, "order": {"value": null}}},
{"data": {"name": "p2b"}, "mark": {"type": "line", "color": "black", "strokeWidth": 2.2}, "encoding": {"order": {"value": null}}},
{"data": {"name": "p2l0"}, "mark": {"type": "text", "fontSize": 15, "fontStyle": "italic", "fill": "white", "stroke": "white", "strokeWidth": 5}, "encoding": {"text": {"field": "t"}}},
{"data": {"name": "p2l0"}, "mark": {"type": "text", "fontSize": 15, "fontStyle": "italic", "color": "black"}, "encoding": {"text": {"field": "t"}}},
{"data": {"name": "p2t"}, "mark": {"type": "text", "align": "left", "baseline": "middle", "fontSize": 21, "color": "black"}, "encoding": {"text": {"field": "t"}}}
]
},
{
"width": 215, "height": 415,
"encoding": {
"x": {"field": "x", "type": "quantitative", "scale": {"domain": [0, 43], "nice": false, "zero": false},
 "axis": {"orient": "top", "values": [0.4, 7, 13.6, 20.4, 27.2, 34.2, 41], "labelExpr": "['Z16','Z15','Z14','Z13','Z12','Z11','Z10'][round(datum.value/7)]", "title": null, "grid": false, "domain": false, "tickSize": -5, "tickColor": "black", "labelFontSize": 21, "labelColor": "black", "labelFont": "Liberation Sans", "labelPadding": 10, "labelFlush": false, "labelOverlap": false, "labelBound": false}},
"y": {"field": "y", "type": "quantitative", "scale": {"domain": [0, 250], "reverse": true, "nice": false, "zero": false},
 "axis": {"values": [0,10,20,30,40,50,60,70,80,90,100,110,120,130,140,150,160,170,180,190,200,210,220,230,240,250], "labels": false, "title": null, "tickSize": 7, "tickColor": "black", "tickWidth": 1.2, "domain": false, "grid": false}}
},
"layer": [
{"data": {"name": "p3c"}, "mark": {"type": "line", "color": "black", "strokeWidth": 1.2}, "encoding": {"detail": {"field": "k"}, "order": {"value": null}}},
{"data": {"name": "p3b"}, "mark": {"type": "line", "color": "black", "strokeWidth": 2.2}, "encoding": {"order": {"value": null}}},
{"data": {"name": "p3l0"}, "mark": {"type": "text", "fontSize": 15, "fill": "white", "stroke": "white", "strokeWidth": 5}, "encoding": {"text": {"field": "t"}}},
{"data": {"name": "p3l0"}, "mark": {"type": "text", "fontSize": 15, "color": "black"}, "encoding": {"text": {"field": "t"}}},
{"data": {"name": "p3l90"}, "mark": {"type": "text", "angle": 90, "fontSize": 15, "fill": "white", "stroke": "white", "strokeWidth": 5}, "encoding": {"text": {"field": "t"}}},
{"data": {"name": "p3l90"}, "mark": {"type": "text", "angle": 90, "fontSize": 15, "color": "black"}, "encoding": {"text": {"field": "t"}}},
{"data": {"name": "p3lr"}, "mark": {"type": "text", "angle": -60, "fontSize": 15, "fill": "white", "stroke": "white", "strokeWidth": 5}, "encoding": {"text": {"field": "t"}}},
{"data": {"name": "p3lr"}, "mark": {"type": "text", "angle": -60, "fontSize": 15, "color": "black"}, "encoding": {"text": {"field": "t"}}},
{"data": {"name": "p3t"}, "mark": {"type": "text", "align": "left", "baseline": "middle", "fontSize": 21, "color": "black"}, "encoding": {"text": {"field": "t"}}}
]
},
{
"width": 215, "height": 415,
"encoding": {
"x": {"field": "x", "type": "quantitative", "scale": {"domain": [0, 43], "nice": false, "zero": false},
 "axis": {"orient": "top", "values": [0, 6.9, 13.8, 20.8, 27.8, 34.8, 41.8], "labelExpr": "['Z16','Z15','Z14','Z13','Z12','Z11','Z10'][round(datum.value/7)]", "title": null, "grid": false, "domain": false, "tickSize": -5, "tickColor": "black", "labelFontSize": 21, "labelColor": "black", "labelFont": "Liberation Sans", "labelPadding": 10, "labelFlush": false, "labelOverlap": false, "labelBound": false}},
"y": {"field": "y", "type": "quantitative", "scale": {"domain": [0, 250], "reverse": true, "nice": false, "zero": false},
 "axis": {"values": [0,10,20,30,40,50,60,70,80,90,100,110,120,130,140,150,160,170,180,190,200,210,220,230,240,250], "labels": false, "title": null, "tickSize": 7, "tickColor": "black", "tickWidth": 1.2, "domain": false, "grid": false}}
},
"layer": [
{"data": {"name": "p4c"}, "mark": {"type": "line", "color": "black", "strokeWidth": 1.2}, "encoding": {"detail": {"field": "k"}, "order": {"value": null}}},
{"data": {"name": "p4f"}, "mark": {"type": "line", "color": "black", "fill": "black", "strokeWidth": 1}, "encoding": {"detail": {"field": "k"}, "order": {"value": null}}},
{"data": {"name": "p4b"}, "mark": {"type": "line", "color": "black", "strokeWidth": 2.2}, "encoding": {"order": {"value": null}}},
{"data": {"name": "p4l0"}, "mark": {"type": "text", "fontSize": 15, "fill": "white", "stroke": "white", "strokeWidth": 5}, "encoding": {"text": {"field": "t"}}},
{"data": {"name": "p4l0"}, "mark": {"type": "text", "fontSize": 15, "color": "black"}, "encoding": {"text": {"field": "t"}}},
{"data": {"name": "p4l90"}, "mark": {"type": "text", "angle": 90, "fontSize": 15, "fill": "white", "stroke": "white", "strokeWidth": 5}, "encoding": {"text": {"field": "t"}}},
{"data": {"name": "p4l90"}, "mark": {"type": "text", "angle": 90, "fontSize": 15, "color": "black"}, "encoding": {"text": {"field": "t"}}},
{"data": {"name": "p4t"}, "mark": {"type": "text", "align": "left", "baseline": "middle", "fontSize": 21, "color": "black"}, "encoding": {"text": {"field": "t"}}}
]
}
]
}
